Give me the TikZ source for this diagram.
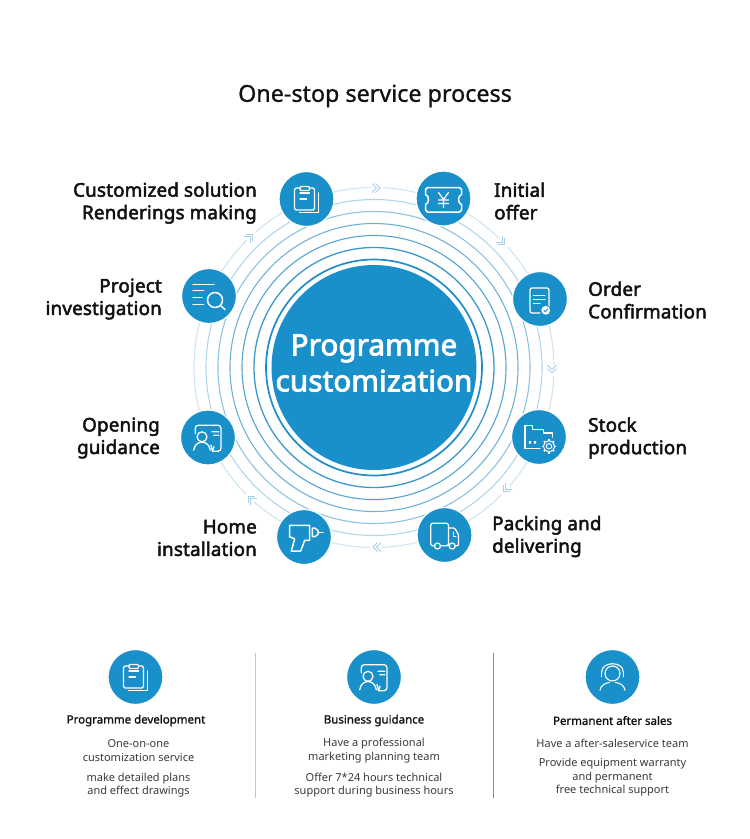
\documentclass[tikz,border=0pt]{standalone}
\usepackage{fontspec}
\setmainfont{Noto Sans}
\newfontfamily\medf[FakeBold=0.9]{Noto Sans}
\newfontfamily\cardf[FakeBold=1.3]{Noto Sans}
\newfontfamily\heavyf[FakeBold=2.6,LetterSpace=1]{Noto Sans}
\newfontfamily\coref[FakeBold=2.8,LetterSpace=0.5]{Noto Sans}
\definecolor{brand}{HTML}{1A90CB}
\definecolor{labelink}{HTML}{111111}
\definecolor{bodyink}{HTML}{3A3A3A}
\definecolor{chev}{HTML}{A9CFE6}
\definecolor{ringa}{HTML}{CFE5F1}
\definecolor{ringb}{HTML}{B0D6EA}
\definecolor{ringc}{HTML}{8FC3E0}
\definecolor{ringd}{HTML}{6FB2D8}
\definecolor{ringe}{HTML}{54A5D1}
\definecolor{ringf}{HTML}{3A98CB}
\definecolor{ringg}{HTML}{1F8DC8}
\definecolor{rulea}{HTML}{C4C4C4}
\definecolor{ruleb}{HTML}{8C8C8C}
\tikzset{
  x=1pt,y=-1pt,
  ring/.style={draw=#1,line width=1.1pt,fill=none},
  bluedot/.style={circle,fill=brand,draw=white,line width=1.2pt,minimum size=55pt,inner sep=0pt},
  stepname/.style={font=\heavyf\fontsize{18.8}{22.5}\selectfont,text=labelink,inner sep=0pt,align=#1},
  cardtitle/.style={font=\cardf\fontsize{11.5}{14}\selectfont,text=labelink,inner sep=0pt,align=center},
  cardbody/.style={font=\fontsize{11}{13.6}\selectfont,text=bodyink,inner sep=0pt,align=center},
  ic/.style={draw=white,line width=1.25pt,line cap=round,line join=round,fill=none},
  pics/chevron/.style={code={
    \fill[white] (1.5,0) circle (6);
    \draw[chev,line width=0.9pt] (-4,-4.5)--(0.5,0)--(-4,4.5) (-0.5,-4.5)--(4,0)--(-0.5,4.5);
  }},
  pics/clip/.style={code={
    \draw[ic,rounded corners=1.5pt] (-6.5,-11)--(-12,-11)--(-12,11)--(8,11)--(8,-11)--(3,-11);
    \draw[ic,rounded corners=1pt] (-6.5,-12.5) rectangle (3,-8.5);
    \draw[ic] (-6.5,-6)--(3,-6) (-6.5,0)--(0,0);
    \draw[ic] (12,-6)--(12,13.5)--(-7,13.5);
  }},
  pics/ticket/.style={code={
    \draw[ic,line width=1.5pt] (-16,-11)--(16,-11)--(18,-9)--(18,-4) .. controls (14,-3) and (14,5) .. (18,6)--(18,11.5)--(16,13.5)--(-16,13.5)--(-18,11.5)--(-18,6) .. controls (-14,5) and (-14,-3) .. (-18,-4)--(-18,-9)--cycle;
    \draw[ic] (-5,-6)--(0,1)--(5,-6) (-5,1.5)--(5,1.5) (-5,5)--(5,5) (0,1)--(0,9);
  }},
  pics/docu/.style={code={
    \draw[ic,rounded corners=2pt] (0,14)--(-10,14)--(-10,-11)--(9,-11)--(9,7);
    \draw[ic] (-6.5,-3.3)--(5,-3.3) (-6.5,0.7)--(5,0.7) (-6.5,4.7)--(0,4.7);
    \fill[white] (5.7,11.3) circle (4.4);
    \draw[brand,line width=0.9pt] (3.7,11.3)--(5.2,12.8)--(8,9.8);
  }},
  pics/folder/.style={code={
    \draw[ic] (1,11.7)--(-14,11.7)--(-14,-11.3)--(-6.3,-11.3)--(-6.3,-7.3)--(4.3,-7.3)--(4.3,-4)--(13.7,-4)--(13.7,0);
    \fill[white] (-10.2,4.2) rectangle (-7.8,6.6) (-5.2,4.2) rectangle (-2.8,6.6);
    \draw[ic,line width=1pt] (10,9.3) circle (2.7);
    \draw[ic,line width=1pt] (10,9.3) circle (5.6);
    \foreach \a in {0,45,...,315}{\draw[white,line width=1.6pt] (10,9.3)++(\a:5.6)--++(\a:1.6);}
  }},
  pics/truck/.style={code={
    \draw[ic,rounded corners=1.5pt] (-10.5,10.7)--(-13.7,10.7)--(-13.7,-11.7)--(4,-11.7)--(4,10.7)--(-3.5,10.7);
    \draw[ic,rounded corners=1pt] (4,-7)--(10,-7)--(14,-0.5)--(14,10.7)--(11,10.7);
    \draw[ic] (4,10.7)--(4.5,10.7);
    \draw[ic,line width=1pt] (9,-3)--(9,1)--(11.5,1);
    \draw[ic] (-7,11) circle (3) (7.7,11) circle (3);
  }},
  pics/drill/.style={code={
    \draw[ic,line width=1.5pt] (-14.3,-11.7)--(5.7,-11.7)--(5.7,3.3)--(0.7,3.3)--(-3.3,14)--(-12.7,14)--(-9.3,1.7)--(-14.3,0)--cycle;
    \draw[ic,line width=1.5pt] (8.3,-8.8)--(11,-8.8)--(14,-6.5)--(14,-2.5)--(11,-0.5)--(8.3,-0.5)--cycle;
    \draw[ic,line width=1.5pt] (14,-4.5)--(19,-4.5);
  }},
  pics/person/.style={code={
    \draw[ic,rounded corners=3pt] (-12.7,-4)--(-12.7,-12.3)--(13,-12.3)--(13,13.7)--(4.5,13.7);
    \draw[ic] (-6,-0.7) circle (5);
    \draw[ic] (-14.3,12.7) .. controls (-13.5,6.5) and (-9,4.6) .. (-6,4.6) .. controls (-3,4.6) and (1.5,6.5) .. (2.3,12.7);
    \draw[ic] (4,-5.7)--(10.7,-5.7) (5.7,-2.3)--(10.7,-2.3) (3,7.5)--(4.5,13.7)--(6,9);
  }},
  pics/magnify/.style={code={
    \draw[ic,line width=1.5pt] (-16,-11.7)--(5,-11.7) (-16,-5.3)--(-5.7,-5.3) (-16,1.3)--(-7,1.3) (-16,8.3)--(-5.7,8.3);
    \draw[ic,line width=1.5pt] (6,4) circle (7.5);
    \draw[ic,line width=1.5pt] (11.5,9.5)--(16,13.5);
  }},
  pics/headset/.style={code={
    \draw[ic,line width=1.1pt] (0,-3.5) circle (7.5);
    \draw[ic,line width=1.1pt] (-12.5,13.3) .. controls (-12,8) and (-7,6) .. (-3,5.5) (3,5.5) .. controls (7,6) and (12,8) .. (12.5,13.3);
    \draw[ic,line width=1.1pt] (-10.8,-5) .. controls (-10.8,-16) and (10.8,-16) .. (10.8,-5);
    \draw[ic,line width=1.9pt] (-11,-4.5)--(-11,-0.5) (11,-4.5)--(11,-0.5);
  }},
}
\begin{document}
\begin{tikzpicture}
\useasboundingbox (0,0) rectangle (750,839);
\coordinate (hub) at (374,367.5);
% concentric rings
\draw[ring=ringa] (hub) circle (180);
\draw[ring=ringb] (hub) circle (168);
\draw[ring=ringc] (hub) circle (156);
\draw[ring=ringd] (hub) circle (144);
\draw[ring=ringe] (hub) circle (132);
\draw[ring=ringf,line width=1.3pt] (hub) circle (120);
\draw[ring=ringg,line width=1.7pt] (hub) circle (108);
\node[circle,fill=brand,minimum size=205pt,inner sep=0pt] (core) at (hub) {};
\node[inner sep=0pt,text=white,align=center,font=\coref\fontsize{29.5}{36}\selectfont] (coretext) at (374,363) {Programme\\customization};
% chevrons on the outer ring
\pic at (376,188) {chevron};
\pic[rotate=-45] at (502,242) {chevron};
\pic[rotate=-90] at (552,369) {chevron};
\pic[rotate=-135] at (506,489) {chevron};
\pic[rotate=180] at (377,547) {chevron};
\pic[rotate=135] at (251,499) {chevron};
\pic[rotate=45] at (250,237) {chevron};
% process steps
\node[bluedot] (s1) at (306.5,199) {}; \pic at (s1) {clip};
\node[bluedot] (s2) at (443.5,198.5) {}; \pic at (s2) {ticket};
\node[bluedot] (s3) at (540,299) {}; \pic at (s3) {docu};
\node[bluedot] (s4) at (539,437) {}; \pic at (s4) {folder};
\node[bluedot] (s5) at (444.5,535) {}; \pic at (s5) {truck};
\node[bluedot] (s6) at (304,537) {}; \pic at (s6) {drill};
\node[bluedot] (s7) at (208,437.5) {}; \pic at (s7) {person};
\node[bluedot] (s8) at (209,296) {}; \pic at (s8) {magnify};
% labels
\node[inner sep=0pt,font=\medf\fontsize{23.3}{28}\selectfont,text=labelink] (title) at (375,96) {One-stop service process};
\node[stepname=right,anchor=east] (l1) at (257,203) {Customized solution\\Renderings making};
\node[stepname=left,anchor=west] (l2) at (494,201) {Initial\\offer};
\node[stepname=left,anchor=west] (l3) at (588,300) {Order\\Confirmation};
\node[stepname=left,anchor=west] (l4) at (588,438) {Stock\\production};
\node[stepname=left,anchor=west] (l5) at (492,536.5) {Packing and\\delivering};
\node[stepname=right,anchor=east] (l6) at (257,538) {Home\\installation};
\node[stepname=right,anchor=east] (l7) at (160,438) {Opening\\guidance};
\node[stepname=right,anchor=east] (l8) at (162,299) {Project\\investigation};
% bottom cards
\node[bluedot] (c1) at (135.5,677) {}; \pic at (c1) {clip};
\node[bluedot] (c2) at (374,677) {}; \pic at (c2) {person};
\node[bluedot] (c3) at (612.5,677) {}; \pic at (c3) {headset};
\coordinate (d1a) at (255,653); \coordinate (d1b) at (255,798);
\coordinate (d2a) at (493.5,653); \coordinate (d2b) at (493.5,798);
\draw[color=rulea,line width=1pt] (d1a)--(d1b);
\draw[color=ruleb,line width=0.9pt] (d2a)--(d2b);
\node[cardtitle] (t1) at (136,720.5) {Programme development};
\node[cardtitle] (t2) at (374,720.5) {Business guidance};
\node[cardtitle] (t3) at (612.5,720.5) {Permanent after sales};
\node[cardbody] (b1a) at (138.5,750.5) {One-on-one\\customization service};
\node[cardbody] (b1b) at (138.5,785) {make detailed plans\\and effect drawings};
\node[cardbody] (b2a) at (374,750.5) {Have a professional\\marketing planning team};
\node[cardbody] (b2b) at (374,785) {Offer 7*24 hours technical\\support during business hours};
\node[cardbody] (b3a) at (612.5,743) {Have a after-saleservice team};
\node[cardbody] (b3b) at (612.5,777.5) {Provide equipment warranty\\and permanent\\free technical support};
\end{tikzpicture}
\end{document}
